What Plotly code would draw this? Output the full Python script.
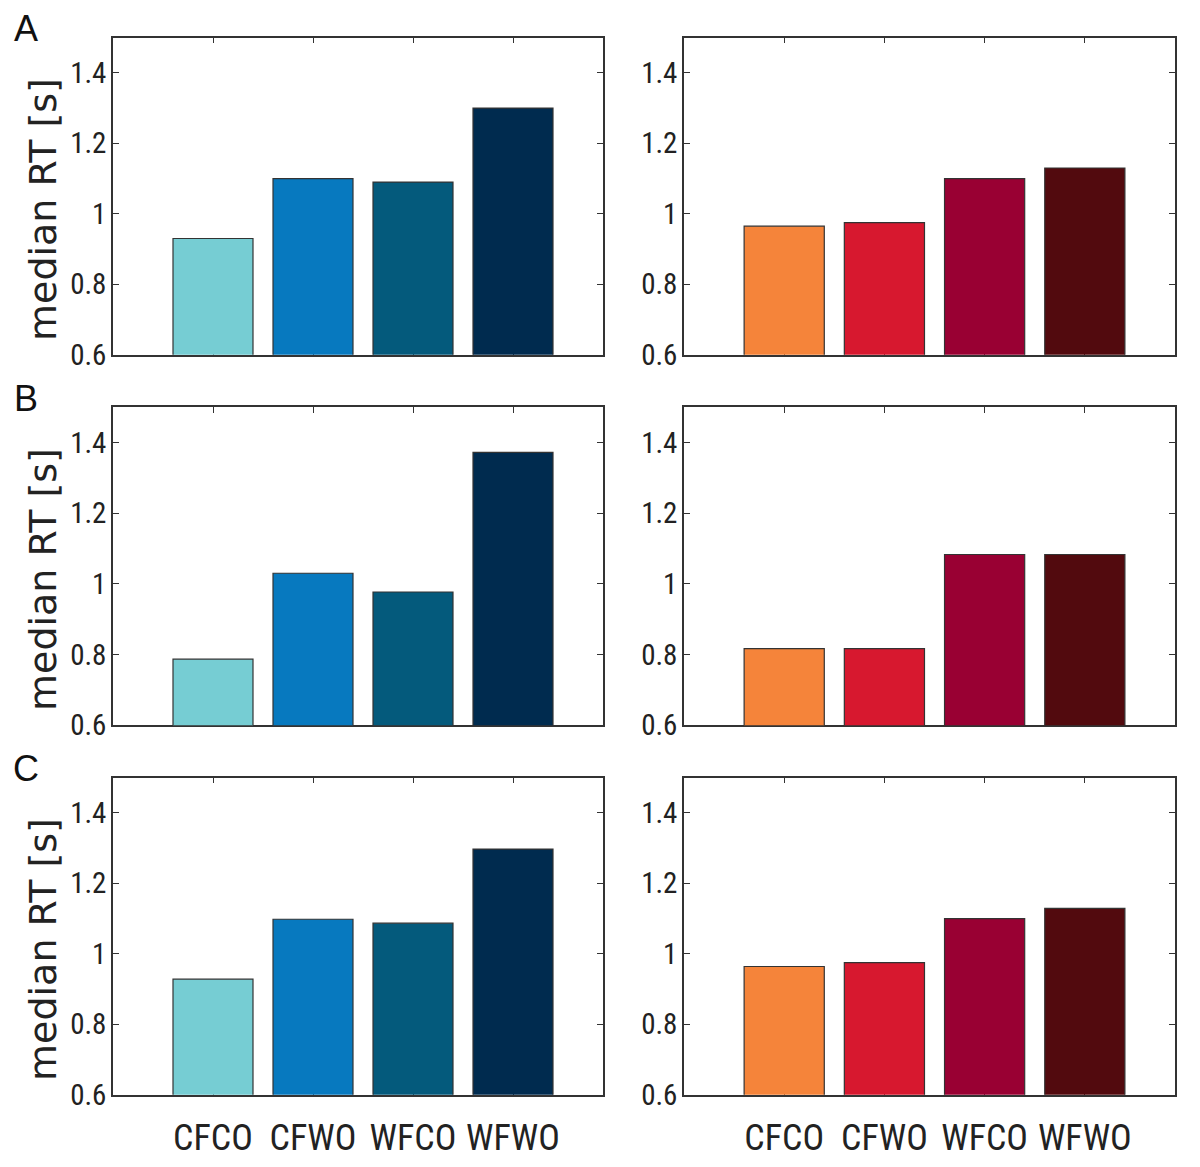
import plotly.graph_objects as go

# condition labels
conditions = ["CFCO", "CFWO", "WFCO", "WFWO"]
positions = [1, 2, 3, 4]

# median RT [s] per panel (row A, B, C; left = blue, right = red)
rt_a_left = [0.93, 1.10, 1.09, 1.30]
rt_a_right = [0.965, 0.975, 1.10, 1.13]
rt_b_left = [0.787, 1.03, 0.977, 1.372]
rt_b_right = [0.817, 0.817, 1.083, 1.083]
rt_c_left = [0.928, 1.098, 1.087, 1.297]
rt_c_right = [0.964, 0.975, 1.10, 1.129]

blue_colors = ["#76CDD3", "#0779BF", "#045A7C", "#002B4F"]
red_colors = ["#F5843A", "#D7182F", "#990033", "#520A0E"]

row_letters = ["A", "B", "C"]
y_ticks = [0.6, 0.8, 1.0, 1.2, 1.4]

# page body has an 8px margin, so the figure is shrunk and shifted by it
OFF = 8
W, H = 1200 - OFF, 1167 - OFF
narrow = "Liberation Sans Narrow, Roboto Condensed, Arial Narrow, sans-serif"

# panel geometry in page pixels (left, right) / (top, bottom)
col_px = [(113, 603), (684, 1175)]
row_px = [(38, 360), (413, 736), (789, 1111)]


def px_x(v):
    return (v - OFF) / W


def px_y(v):
    return 1 - (v - OFF) / H


panels = [
    (rt_a_left, blue_colors), (rt_a_right, red_colors),
    (rt_b_left, blue_colors), (rt_b_right, red_colors),
    (rt_c_left, blue_colors), (rt_c_right, red_colors),
]

fig = go.Figure()
annotations = []
layout_axes = {}

for i, (vals, cols) in enumerate(panels):
    r, c = divmod(i, 2)
    n = i + 1
    xa = "x" if n == 1 else f"x{n}"
    ya = "y" if n == 1 else f"y{n}"
    fig.add_trace(go.Bar(
        x=positions, y=vals, base=0,
        marker=dict(color=cols, line=dict(color="#333333", width=1.2)),
        width=0.8, showlegend=False,
        xaxis=xa, yaxis=ya,
    ))
    x0, x1 = col_px[c]
    t, b = row_px[r]
    bottom_row = (r == 2)
    layout_axes["xaxis" if n == 1 else f"xaxis{n}"] = dict(
        domain=[px_x(x0), px_x(x1)], anchor=ya, range=[0, 4.9],
        tickvals=positions,
        ticktext=conditions if bottom_row else ["", "", "", ""],
        ticks="inside", ticklen=6, tickcolor="#333333", tickwidth=1,
        showline=True, linecolor="#333333", linewidth=1.5, mirror="ticks",
        showgrid=False, zeroline=False, layer="below traces",
        ticklabelstandoff=10,
        tickfont=dict(family=narrow, size=36, color="#222222"),
        fixedrange=True,
    )
    layout_axes["yaxis" if n == 1 else f"yaxis{n}"] = dict(
        domain=[px_y(b), px_y(t)], anchor=xa, range=[0.6, 1.5],
        tickvals=y_ticks, ticktext=["0.6", "0.8", "1", "1.2", "1.4"],
        ticks="inside", ticklen=6, tickcolor="#333333", tickwidth=1,
        showline=True, linecolor="#333333", linewidth=1.5, mirror="ticks",
        showgrid=False, zeroline=False, ticklabelstandoff=-1,
        tickfont=dict(family=narrow, size=29, color="#222222"),
        fixedrange=True,
    )
    if c == 0:
        annotations.append(dict(
            text="median RT [s]", textangle=-90, showarrow=False,
            x=px_x(43), y=px_y((t + b) / 2 + 14), xref="paper", yref="paper",
            xanchor="center", yanchor="middle",
            font=dict(family="DejaVu Sans", size=38, color="#222222"),
        ))
        annotations.append(dict(
            text=row_letters[r], showarrow=False,
            x=px_x(26), y=px_y(t - 9), xref="paper", yref="paper",
            xanchor="center", yanchor="middle",
            font=dict(family="Liberation Sans, Arial, sans-serif", size=36, color="#111111"),
        ))

fig.update_layout(
    width=W, height=H,
    margin=dict(l=0, r=0, t=0, b=0),
    paper_bgcolor="white", plot_bgcolor="white",
    bargap=0.2, annotations=annotations,
    **layout_axes,
)

fig.write_html("out.html")
